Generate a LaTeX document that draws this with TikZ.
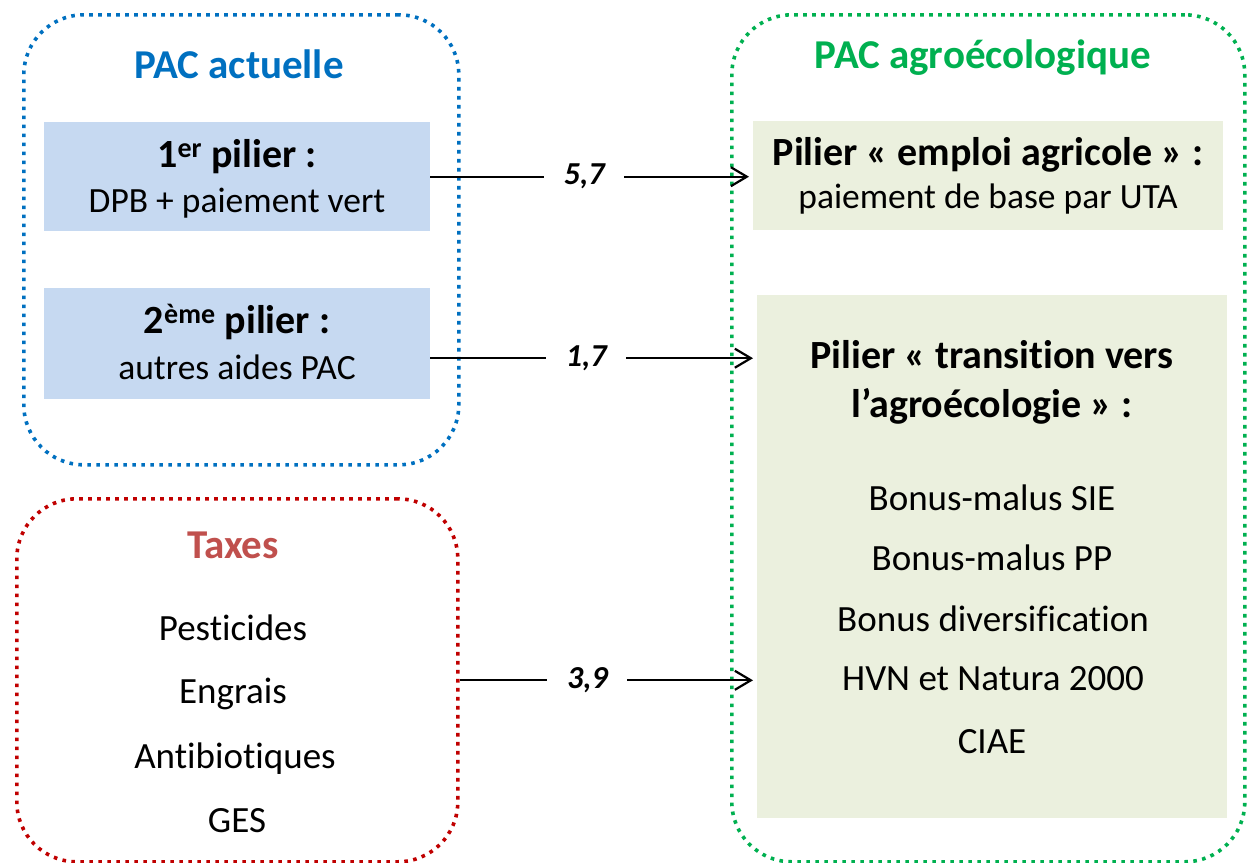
\documentclass[tikz,border=0pt]{standalone}
\usepackage{fontspec}
\setmainfont{Carlito}[Ligatures={NoCommon}]
\usetikzlibrary{arrows.meta}
\definecolor{bluebord}{HTML}{0070C0}
\definecolor{bluefill}{HTML}{C6D9F1}
\definecolor{greenbord}{HTML}{00B050}
\definecolor{greenfill}{HTML}{EBF0DE}
\definecolor{redbord}{HTML}{C00000}
\definecolor{redtitle}{HTML}{C0504D}
\begin{document}
\begin{tikzpicture}[x=1pt,y=-1pt,
  container/.style={draw, line width=3.6pt, dash pattern=on 3.6pt off 5.4pt, rounded corners=60pt, anchor=north west, inner sep=0pt},
  pbox/.style={anchor=north west, inner sep=0pt, draw=none},
  txt/.style={anchor=base, inner sep=0pt},
  ttl/.style={txt, font=\fontsize{41}{44}\selectfont\bfseries},
  head/.style={txt, font=\fontsize{40}{44}\selectfont\bfseries},
  reg/.style={txt, font=\fontsize{35.5}{40}\selectfont},
  item/.style={txt, font=\fontsize{37}{40}\selectfont},
  conn/.style={line width=2.2pt, -{Straight Barb[length=16pt,width=19pt,line width=2.2pt]}, shorten >=4pt},
  lbl/.style={fill=white, inner ysep=2pt, inner xsep=0pt, minimum width=80pt, font=\fontsize{32}{34}\selectfont\bfseries\itshape}
]
\useasboundingbox (0,0) rectangle (1247,862);

% boxes
\node[pbox, fill=bluefill, minimum width=386pt, minimum height=109pt] (b1) at (44,122) {};
\node[pbox, fill=bluefill, minimum width=386pt, minimum height=111pt] (b2) at (44,288) {};
\node[pbox, fill=greenfill, minimum width=470pt, minimum height=109pt] (e1) at (753,121) {};
\node[pbox, fill=greenfill, minimum width=470pt, minimum height=523pt] (t1) at (757,295) {};

% containers
\node[container, draw=bluebord, minimum width=435pt, minimum height=450pt] (cur) at (22,13) {};
\node[container, draw=redbord, minimum width=441pt, minimum height=363pt] (tax) at (15,497) {};
\node[container, draw=greenbord, minimum width=513pt, minimum height=847pt] (agro) at (730,13) {};

% texts left
\node[ttl, text=bluebord] (tcur) at (239,78) {PAC actuelle};
\node[head] (h1) at (237,167) {1\textsuperscript{er} pilier :};
\node[reg] (l1) at (237,212) {DPB + paiement vert};
\node[head] (h2) at (237,333) {2\textsuperscript{ème} pilier :};
\node[reg] (l2) at (237,379) {autres aides PAC};

\node[ttl, text=redtitle] (ttax) at (233,558) {Taxes};
\node[item] (x1) at (233,640) {Pesticides};
\node[item] (x2) at (233,703) {Engrais};
\node[item] (x3) at (235,768) {Antibiotiques};
\node[item] (x4) at (237,832) {GES};

% texts right
\node[ttl, text=greenbord] (tagro) at (983,68) {PAC agroécologique};
\node[head] (h3) at (988,165) {Pilier « emploi agricole » :};
\node[reg] (l3) at (988,208) {paiement de base par UTA};
\node[head] (h4) at (992,368) {Pilier « transition vers};
\node[head] (h5) at (992,417) {l’agroécologie » :};
\node[item] (y1) at (992,510) {Bonus-malus SIE};
\node[item] (y2) at (992,570) {Bonus-malus PP};
\node[item] (y3) at (993,631) {Bonus diversification};
\node[item] (y4) at (993,690) {HVN et Natura 2000};
\node[item] (y5) at (992,753) {CIAE};

% connectors
\draw[conn] (b1.east) -- node[lbl, pos=0.477] {5,7} (b1.east -| e1.west);
\draw[conn] ([yshift=-14.5pt]b2.east) -- node[lbl, pos=0.477] {1,7} ([yshift=-14.5pt]b2.east -| t1.west);
\draw[conn] (tax.east) -- node[lbl, pos=0.43] {3,9} (tax.east -| t1.west);
\end{tikzpicture}
\end{document}
